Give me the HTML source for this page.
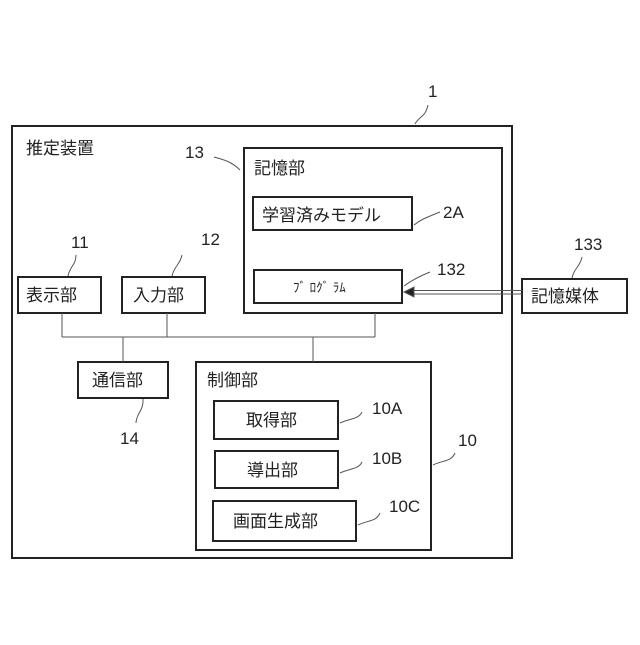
<!DOCTYPE html>
<html><head><meta charset="utf-8"><style>
body{margin:0;background:#fff}
text{font-family:"Liberation Sans","Noto Sans CJK JP",sans-serif;fill:#222}
</style></head><body>
<svg width="640" height="640" viewBox="0 0 640 640" xmlns="http://www.w3.org/2000/svg">
<g fill="none" stroke="#222" stroke-width="2">
<rect x="12" y="126" width="500" height="432"/>
<rect x="244" y="148" width="258" height="165"/>
<rect x="253" y="197" width="159" height="33"/>
<rect x="254" y="270" width="148" height="33"/>
<rect x="522" y="279" width="105" height="34"/>
<rect x="18" y="277" width="83" height="36"/>
<rect x="122" y="277" width="83" height="36"/>
<rect x="78" y="362" width="90" height="36"/>
<rect x="196" y="362" width="235" height="188"/>
<rect x="214" y="401" width="124" height="38"/>
<rect x="215" y="451" width="123" height="37"/>
<rect x="213" y="501" width="143" height="40"/>
</g>
<g fill="none" stroke="#555" stroke-width="1">
<path d="M62 313V337M167 313V337M375 313V337M62 337H375M123 337V362M313 337V362"/>
<path d="M522 290.5H410M522 294H410"/>
<path d="M404 292L414 287V297Z" fill="#222"/>
<path d="M415 124C420 115 425 118 428 105"/>
<path d="M214 157C225 160 232 162 240 170"/>
<path d="M414 225C420 220 425 218 440 212"/>
<path d="M404 286C412 280 420 276 430 272"/>
<path d="M68 276C70 266 76 265 76 255"/>
<path d="M172 276C174 266 180 265 182 255"/>
<path d="M572 278C574 268 580 267 582 257"/>
<path d="M143 399C144 410 136 414 136 423"/>
<path d="M340 423C350 418 358 420 362 412"/>
<path d="M340 473C350 468 358 470 362 462"/>
<path d="M358 525C368 520 376 522 380 513"/>
<path d="M433 465C443 460 451 462 455 453"/>
</g>
<g font-size="17">
<text x="26" y="154">推定装置</text>
<text x="254" y="174">記憶部</text>
<text x="262" y="221">学習済みモデル</text>
<text x="293" y="292" font-size="13">ﾌﾞ ﾛｸﾞ ﾗﾑ</text>
<text x="531" y="302">記憶媒体</text>
<text x="26" y="301">表示部</text>
<text x="133" y="301">入力部</text>
<text x="92" y="386">通信部</text>
<text x="207" y="386">制御部</text>
<text x="246" y="426">取得部</text>
<text x="247" y="476">導出部</text>
<text x="233" y="527">画面生成部</text>
</g>
<g font-size="17">
<text x="428" y="97">1</text>
<text x="185" y="158">13</text>
<text x="443" y="218">2A</text>
<text x="437" y="275">132</text>
<text x="71" y="248">11</text>
<text x="201" y="245">12</text>
<text x="574" y="250">133</text>
<text x="120" y="444">14</text>
<text x="372" y="414">10A</text>
<text x="372" y="464">10B</text>
<text x="389" y="512">10C</text>
<text x="458" y="446">10</text>
</g>
</svg>
</body></html>
